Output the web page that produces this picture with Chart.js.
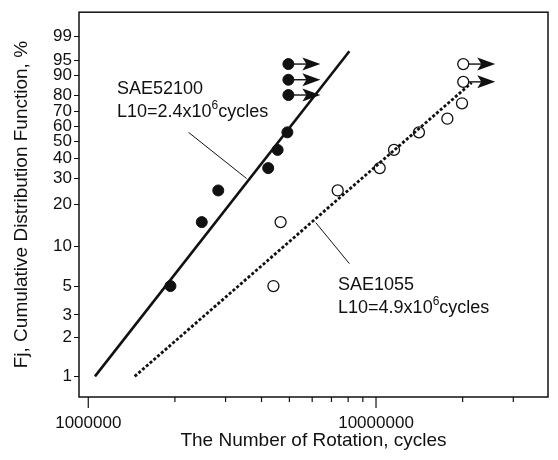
<!DOCTYPE html>
<html>
<head>
<meta charset="utf-8">
<script src="https://cdn.jsdelivr.net/npm/chart.js@4.4.1/dist/chart.umd.min.js"></script>
<style>
  html, body { margin: 0; padding: 0; background: #fff; }
  canvas { display: block; }
</style>
</head>
<body>
<canvas id="weibull" width="558" height="460"></canvas>
<script>
// Data (cycles vs cumulative failure %, Weibull paper)
const cycles52100 = [1.93e6, 2.48e6, 2.83e6, 4.22e6, 4.55e6, 4.92e6, 4.96e6, 4.96e6, 4.96e6];
const fail52100 = [5, 15, 25, 35, 45, 56, 80, 88, 94];
const susp52100 = [false, false, false, false, false, false, true, true, true];

const cycles1055 = [4.40e6, 4.66e6, 7.36e6, 1.03e7, 1.155e7, 1.41e7, 1.77e7, 1.99e7, 2.01e7, 2.01e7];
const fail1055 = [5, 15, 25, 35, 45, 56, 65, 75, 87, 94];
const susp1055 = [false, false, false, false, false, false, false, false, true, true];

const fitX52100 = [1.055e6, 8.08e6];
const fitF52100 = [1, 97.1];
const fitX1055 = [1.45e6, 2.15e7];
const fitF1055 = [1, 86.6];

const yTickPct = [1, 2, 3, 5, 10, 20, 30, 40, 50, 60, 70, 80, 90, 95, 99];
const xTickVals = [1e6, 2e6, 3e6, 4e6, 5e6, 6e6, 7e6, 8e6, 9e6, 1e7, 2e7, 3e7];
const xTickLabels = { 1000000: "1000000", 10000000: "10000000" };

const FONT = "'Liberation Sans', Arial, sans-serif";
const weib = (p) => Math.log(-Math.log(1 - p / 100));
const toPts = (xs, ps) => xs.map((x, i) => ({ x, y: weib(ps[i]) }));

// Plugins
const framePlugin = {
  id: "frame",
  afterDraw(chart) {
    const { ctx, chartArea: a, scales } = chart;
    ctx.save();
    ctx.strokeStyle = "#111";
    ctx.lineWidth = 1.5;
    ctx.strokeRect(a.left, a.top, a.right - a.left, a.bottom - a.top);
    // x tick marks: long at decades, short otherwise
    ctx.lineWidth = 1.2;
    xTickVals.forEach((v) => {
      const px = scales.x.getPixelForValue(v);
      const len = xTickLabels[v] ? 11 : 5;
      ctx.beginPath();
      ctx.moveTo(px, a.bottom);
      ctx.lineTo(px, a.bottom + len);
      ctx.stroke();
    });
    ctx.restore();
  }
};

const drawArrow = (ctx, x, y) => {
  ctx.beginPath();
  ctx.moveTo(x, y);
  ctx.lineTo(x + 16, y);
  ctx.stroke();
  ctx.beginPath();
  ctx.moveTo(x + 9, y - 6.5);
  ctx.lineTo(x + 27, y);
  ctx.lineTo(x + 9, y + 6.5);
  ctx.lineTo(x + 13, y);
  ctx.closePath();
  ctx.fill();
};

const arrowPlugin = {
  id: "arrows",
  afterDatasetsDraw(chart) {
    const { ctx } = chart;
    ctx.save();
    ctx.strokeStyle = "#111";
    ctx.fillStyle = "#111";
    ctx.lineWidth = 1.4;
    [[0, susp52100], [1, susp1055]].forEach(([di, flags]) => {
      chart.getDatasetMeta(di).data.forEach((pt, i) => {
        if (flags[i]) drawArrow(ctx, pt.x + 5, pt.y);
      });
    });
    ctx.restore();
  }
};

const notes = [
  { name: "SAE52100", l10: "2.4", at: [1.258e6, 83.5], lead: [[2.23e6, 56], [3.55e6, 30]] },
  { name: "SAE1055", l10: "4.9", at: [7.38e6, 5.1], lead: [[6.17e6, 14.9], [8.08e6, 7.4]] }
];

const notePlugin = {
  id: "notes",
  afterDraw(chart) {
    const { ctx, scales: { x, y } } = chart;
    ctx.save();
    ctx.fillStyle = "#111";
    ctx.strokeStyle = "#111";
    ctx.lineWidth = 1;
    notes.forEach((n) => {
      const tx = x.getPixelForValue(n.at[0]);
      const ty = y.getPixelForValue(weib(n.at[1]));
      ctx.font = `18px ${FONT}`;
      ctx.textBaseline = "middle";
      ctx.fillText(n.name, tx, ty);
      const line2 = `L10=${n.l10}x10`;
      ctx.fillText(line2, tx, ty + 23);
      let w = ctx.measureText(line2).width;
      ctx.font = `12px ${FONT}`;
      ctx.fillText("6", tx + w, ty + 17);
      w += ctx.measureText("6").width;
      ctx.font = `18px ${FONT}`;
      ctx.fillText("cycles", tx + w, ty + 23);
      const [p0, p1] = n.lead;
      ctx.beginPath();
      ctx.moveTo(x.getPixelForValue(p0[0]), y.getPixelForValue(weib(p0[1])));
      ctx.lineTo(x.getPixelForValue(p1[0]), y.getPixelForValue(weib(p1[1])));
      ctx.stroke();
    });
    ctx.restore();
  }
};

new Chart(document.getElementById("weibull"), {
  type: "scatter",
  data: {
    datasets: [
      { label: "SAE52100", data: toPts(cycles52100, fail52100), pointRadius: 5.5, pointHoverRadius: 5.5, backgroundColor: "#111", borderColor: "#111", borderWidth: 1 },
      { label: "SAE1055", data: toPts(cycles1055, fail1055), pointRadius: 5.5, pointHoverRadius: 5.5, backgroundColor: "rgba(0,0,0,0)", borderColor: "#111", borderWidth: 1.3 },
      { label: "fit52100", data: toPts(fitX52100, fitF52100), showLine: true, pointRadius: 0, borderColor: "#111", borderWidth: 2.6 },
      { label: "fit1055", data: toPts(fitX1055, fitF1055), showLine: true, pointRadius: 0, borderColor: "#111", borderWidth: 2.8, borderDash: [3, 2] }
    ]
  },
  options: {
    responsive: false,
    animation: false,
    events: [],
    layout: { padding: { left: 0, right: 10, top: 5, bottom: 0 } },
    plugins: { legend: { display: false }, tooltip: { enabled: false } },
    scales: {
      x: {
        type: "logarithmic",
        min: 9.285e5,
        max: 3.96e7,
        afterFit: (s) => { s.height = 63; },
        afterBuildTicks: (s) => { s.ticks = xTickVals.map((value) => ({ value })); },
        grid: { display: true, drawOnChartArea: false, drawTicks: false },
        border: { display: false },
        ticks: {
          autoSkip: false,
          maxRotation: 0,
          padding: 16,
          color: "#111",
          font: { family: FONT, size: 17 },
          callback: (v) => xTickLabels[v] || ""
        },
        title: { display: true, text: "The Number of Rotation, cycles", color: "#111", font: { family: FONT, size: 19 }, padding: { top: 0, bottom: 8 } }
      },
      y: {
        type: "linear",
        min: -4.972,
        max: 1.97,
        afterFit: (s) => { s.width = 79; },
        afterBuildTicks: (s) => { s.ticks = yTickPct.map((p) => ({ value: weib(p) })); },
        grid: { drawOnChartArea: false, drawTicks: true, tickLength: 5, color: "#111" },
        border: { display: false },
        ticks: {
          autoSkip: false,
          padding: 2,
          color: "#111",
          font: { family: FONT, size: 17 },
          callback: (v, i) => String(yTickPct[i])
        },
        title: { display: true, text: "Fj, Cumulative Distribution Function, %", color: "#111", font: { family: FONT, size: 19 }, padding: { top: 10, bottom: 0 } }
      }
    }
  },
  plugins: [framePlugin, arrowPlugin, notePlugin]
});
</script>
</body>
</html>
